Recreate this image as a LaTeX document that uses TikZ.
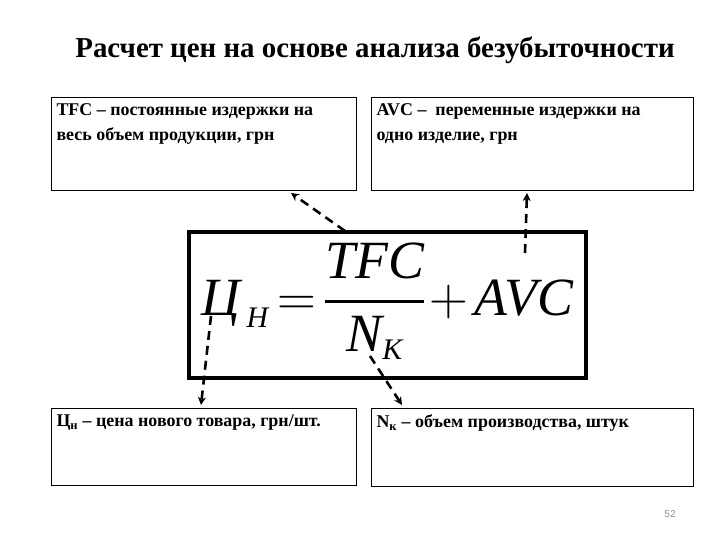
\documentclass[tikz,border=0pt]{standalone}
\usepackage{fix-cm}
\usepackage{fontspec}
\usepackage{amsmath}
\setmainfont{Liberation Serif}
\setsansfont{Liberation Sans}
\usetikzlibrary{arrows.meta, positioning, calc}
\definecolor{pagegray}{rgb}{0.55, 0.55, 0.55}
\newcommand{\boxtxt}[3]{\parbox[b][#2][t]{#1}{#3}}
\newcommand{\itx}[1]{\text{\itshape #1}}
\newcommand{\subx}[1]{\text{\fontsize{30}{30}\selectfont\itshape #1}}

\begin{document}
\begin{tikzpicture}[>=Stealth, x=1bp, y=-1bp,
    infobox/.style={draw, line width=1bp, anchor=north west, inner xsep=5bp, inner ysep=6bp,
        font=\bfseries\fontsize{18}{25}\selectfont},
    link/.style={-{Stealth[length=8bp, width=8bp]}, line width=2.6bp, dash pattern=on 9bp off 6bp}]
    \useasboundingbox (0,0) rectangle (720,540);
    % Title
    \node[font=\bfseries\fontsize{29}{33}\selectfont] (title) at (375,50) {Расчет цен на основе анализа безубыточности};
    % Boxes
    \node[infobox] (tfc) at (51,97) {\boxtxt{295bp}{81bp}{TFC – постоянные издержки на\\весь объем продукции, грн}};
    \node[infobox] (avc) at (371,97) {\boxtxt{312bp}{81bp}{AVC –\ \ переменные издержки на\\одно изделие, грн}};
    \node[infobox] (cena) at (51,408) {\boxtxt{295bp}{65bp}{Ц\textsubscript{н} – цена нового товара, грн/шт.}};
    \node[infobox] (nk) at (371,408) {\boxtxt{312bp}{66bp}{N\textsubscript{к} – объем производства, штук}};
    % Formula
    \node[draw, line width=4bp, minimum width=397bp, minimum height=146bp, inner sep=0pt] (formula) at (387.5,305)
        {\fontsize{54}{60}\selectfont \thickmuskip=3mu \medmuskip=2mu \nulldelimiterspace=0pt
         \raisebox{-10bp}[0pt][0pt]{$\itx{Ц}_{\,\subx{Н}} = \genfrac{}{}{2.6bp}{0}{\itx{TFC}}{\itx{N}_{\subx{К}}} + \itx{AVC}$}};
    % Links
    \coordinate (fromTFC) at ($(formula.north west)+(158,1)$);
    \coordinate (fromAVC) at ($(formula.north west)+(338,23)$);
    \coordinate (fromCena) at ($(formula.north west)+(24,86)$);
    \coordinate (fromNk) at ($(formula.north west)+(183,126)$);
    \draw[link] (fromTFC) -- ($(tfc.south west)+(240,2)$);
    \draw[link] (fromAVC) -- ($(avc.south west)+(156,2)$);
    \draw[link] (fromCena) -- ($(cena.north west)+(150,-3)$);
    \draw[link] (fromNk) -- ($(nk.north west)+(31,-3)$);
    % Page number
    \node[font=\sffamily\fontsize{10}{12}\selectfont, text=pagegray] (pagenum) at (670,514) {52};
\end{tikzpicture}
\end{document}
